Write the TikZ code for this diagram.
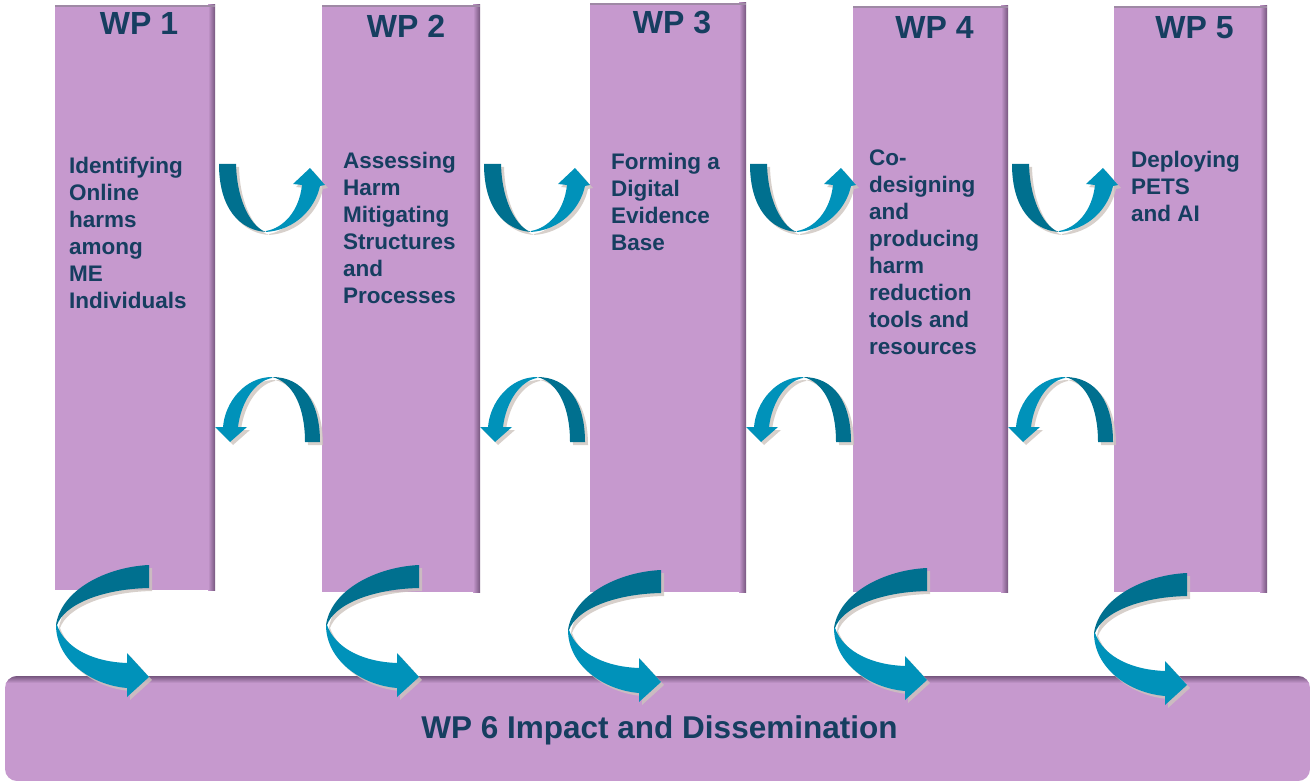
\documentclass[tikz,border=0pt]{standalone}
\usepackage{fontspec}
\setmainfont{Liberation Sans}
\usetikzlibrary{positioning,shadows}
\definecolor{wpfill}{RGB}{198,153,206}
\definecolor{wpedge}{RGB}{118,86,126}
\definecolor{wptext}{RGB}{22,62,96}
\definecolor{arrdark}{RGB}{0,112,143}
\definecolor{arrlight}{RGB}{0,146,186}
\definecolor{arrshade}{RGB}{205,196,190}

\begin{document}
\begin{tikzpicture}[x=1pt, y=-1pt,
    wptitle/.style={font=\fontsize{32}{38}\selectfont\bfseries, text=wptext, inner sep=0pt, anchor=base},
    wpbody/.style={font=\fontsize{22.5}{27}\selectfont\bfseries, text=wptext, inner sep=0pt, anchor=north west, align=left},
    wpbig/.style={font=\fontsize{31.5}{38}\selectfont\bfseries, text=wptext, inner sep=0pt, anchor=base},
    arrshadow/.style={drop shadow={shadow xshift=3pt, shadow yshift=-3pt, fill=arrshade, opacity=0.8}}]
    \useasboundingbox (0,0) rectangle (1311,783);

    % work package columns
    \foreach \xa/\xb/\ya/\yb in {55/215/5/590, 322/480/5/592, 590/746/3/592, 853/1008/6/592, 1114/1267/6/592}
    {
        \fill[wpfill] (\xa,\ya) rectangle (\xb,\yb);
        \shade[left color=wpfill, right color=wpedge] (\xb-7,\ya) rectangle (\xb,\yb);
        \fill[wpedge!70] (\xa,\ya) rectangle (\xb,\ya+2);
    }

    % WP 6 bar
    \begin{scope}
        \clip[rounded corners=12pt] (5,676) rectangle (1310,781);
        \fill[wpfill] (5,676) rectangle (1310,781);
        \shade[top color=wpedge, bottom color=wpfill] (5,676) rectangle (1310,683);
    \end{scope}

    % arrows between the columns
    \foreach \xo in {215, 480, 746, 1008}
    {
        \begin{scope}[shift={(\xo,164)}]
            \fill[arrdark, arrshadow] (4,0) .. controls (4,45) and (25,66) .. (51,68)
                .. controls (38,64) and (22,40) .. (21,0) -- cycle;
            \fill[arrlight, arrshadow] (51,68) .. controls (80,66) and (100,45) .. (105,22)
                -- (110,21) -- (95,4) -- (78,20) -- (87,21)
                .. controls (84,48) and (68,64) .. (51,67) -- cycle;
        \end{scope}
        \begin{scope}[shift={(\xo,377)}]
            \fill[arrdark, arrshadow] (105,65) .. controls (105,25) and (88,0) .. (57,0)
                .. controls (78,5) and (90,30) .. (90,65) -- cycle;
            \fill[arrlight, arrshadow] (57,0) .. controls (30,0) and (10,25) .. (8,50)
                -- (0,50) -- (15,65) -- (32,50) -- (23,50)
                .. controls (26,25) and (40,4) .. (57,1) -- cycle;
        \end{scope}
    }

    % arrows down into WP 6
    \foreach \xo/\yo in {56/565, 326/565, 568/570, 834/568, 1094/573}
    {
        \begin{scope}[shift={(\xo,\yo)}]
            \fill[arrdark, arrshadow] (93,0) .. controls (50,2) and (5,25) .. (0,60)
                -- (1,60) .. controls (8,40) and (45,24) .. (93,23) -- cycle;
            \fill[arrlight, arrshadow] (0,60) .. controls (0,95) and (35,120) .. (71,123)
                -- (71,132) -- (93,112) -- (71,88) -- (71,98)
                .. controls (40,97) and (10,85) .. (1,60) -- cycle;
        \end{scope}
    }

    \node[wptitle] (wp1) at (139,35) {WP 1};
    \node[wptitle] (wp2) at (406,38) {WP 2};
    \node[wptitle] (wp3) at (672,34) {WP 3};
    \node[wptitle] (wp4) at (934.5,39) {WP 4};
    \node[wptitle] (wp5) at (1194.5,39) {WP 5};

    \node[wpbody] (wp1txt) at (69,157) {Identifying\\Online\\harms\\among\\ME\\Individuals};
    \node[wpbody] (wp2txt) at (343,152) {Assessing\\Harm\\Mitigating\\Structures\\and\\Processes};
    \node[wpbody] (wp3txt) at (611,153) {Forming a\\Digital\\Evidence\\Base};
    \node[wpbody] (wp4txt) at (869,150) {Co-\\designing\\and\\producing\\harm\\reduction\\tools and\\resources};
    \node[wpbody] (wp5txt) at (1131,151) {Deploying\\PETS\\and AI};

    \node[wpbig] (wp6) at (659.5,738) {WP 6 Impact and Dissemination};
\end{tikzpicture}
\end{document}
